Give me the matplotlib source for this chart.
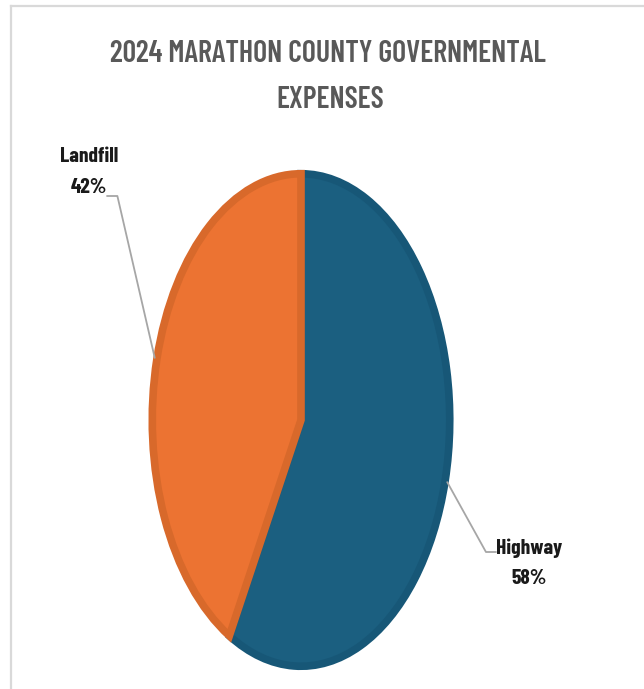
import numpy as np
import matplotlib.pyplot as plt
from matplotlib.lines import Line2D

labels = ['Highway', 'Landfill']
shares = [58, 42]
fill_colors = ['#1b5f80', '#ec7332']
edge_colors = ['#175777', '#d8692b']

W, H = 644, 689
fig = plt.figure(figsize=(W / 100, H / 100), dpi=100)
fig.patch.set_facecolor('white')

# light grey frame on the top and left
fig.add_artist(Line2D([10.5 / W, 10.5 / W], [0, 1 - 6 / H], color='#d9d9d9', lw=1.6))
fig.add_artist(Line2D([10.5 / W, 1], [1 - 6 / H, 1 - 6 / H], color='#d9d9d9', lw=1.6))

font = ['Barlow Condensed', 'Roboto Condensed', 'DejaVu Sans']

fig.text(328 / W, 1 - 54 / H, '2024 MARATHON COUNTY GOVERNMENTAL', ha='center', va='center',
         fontsize=21.5, fontweight='semibold', color='#595959', family=font)
fig.text(330 / W, 1 - 100 / H, 'EXPENSES', ha='center', va='center',
         fontsize=21.5, fontweight='semibold', color='#595959', family=font)

# elliptical pie: stretch the axes
ax = fig.add_axes([150 / W, 19 / H, 302 / W, 500 / H])
wedges, _ = ax.pie(shares, colors=fill_colors, startangle=90, counterclock=False,
                   radius=0.985, wedgeprops=dict(linewidth=5.5))
for w, ec in zip(wedges, edge_colors):
    w.set_edgecolor(ec)
ax.set_aspect('auto')
ax.set_xlim(-1, 1)
ax.set_ylim(-1, 1)
ax.axis('off')

# label positions (figure pixels, y up), line end and slant angle
label_spec = {
    'Highway': dict(text_xy=(529, H - 563), end=(496, H - 552), angleB=-61),
    'Landfill': dict(text_xy=(89, H - 172), end=(107, H - 196), angleB=-77),
}
for w, lab, val in zip(wedges, labels, shares):
    mid = np.deg2rad((w.theta1 + w.theta2) / 2)
    spec = label_spec[lab]
    ax.annotate('', xy=(np.cos(mid), np.sin(mid)), xycoords='data',
                xytext=spec['end'], textcoords='figure pixels',
                arrowprops=dict(arrowstyle='-', color='#a6a6a6', lw=1.3,
                                shrinkA=0, shrinkB=0,
                                connectionstyle=f"angle,angleA=0,angleB={spec['angleB']},rad=0"))
    fig.text(spec['text_xy'][0] / W, spec['text_xy'][1] / H, f'{lab}\n{val}%',
             ha='center', va='center', fontsize=15.5, fontweight='bold',
             color='#1a1a1a', family=font, linespacing=1.75)

fig.savefig('out.png', dpi=100)
